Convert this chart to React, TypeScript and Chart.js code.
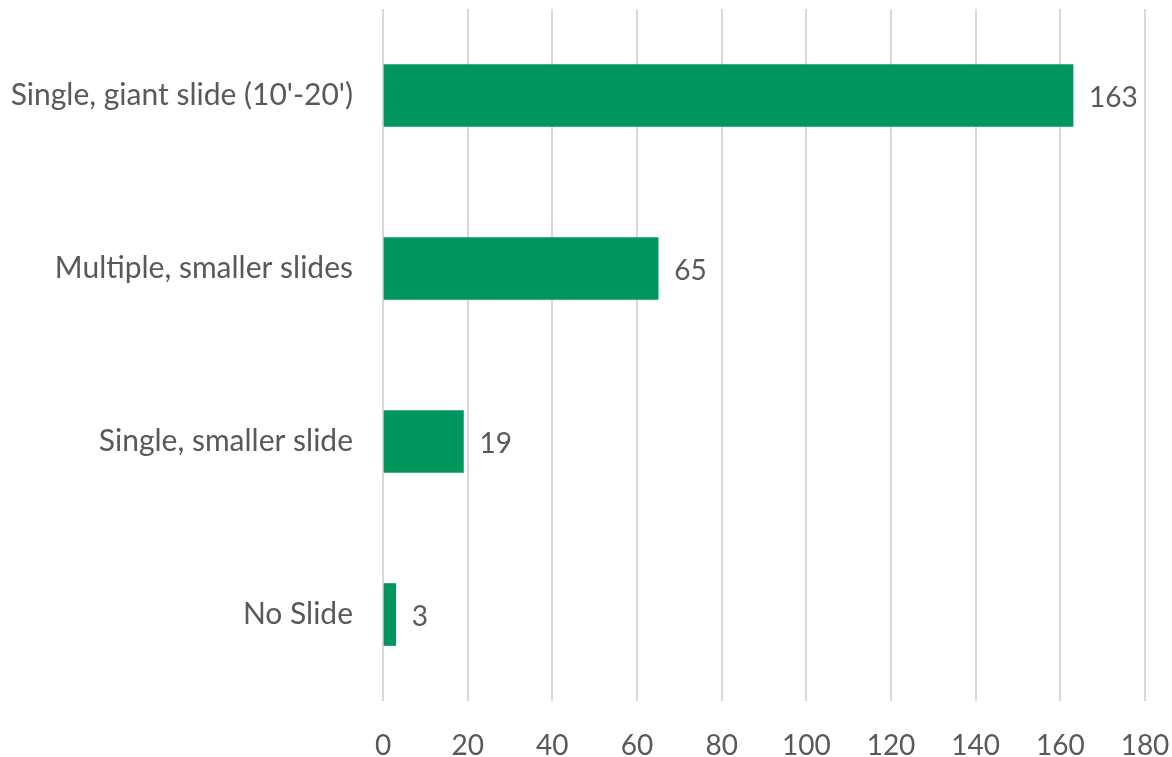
import React, { useEffect, useRef } from "react";
import { Chart, registerables } from "chart.js";

Chart.register(...registerables);

const categories = ["Single, giant slide (10'-20')", "Multiple, smaller slides", "Single, smaller slide", "No Slide"];
const values = [163, 65, 19, 3];
const xMin = 0;
const xMax = 180;
const xStep = 20;

const TEXT = "#595959";
const FONT = "Lato, 'Open Sans', sans-serif";

const valueLabels = {
  id: "valueLabels",
  afterDatasetsDraw(chart: any) {
    const ctx = chart.ctx;
    const meta = chart.getDatasetMeta(0);
    ctx.save();
    ctx.fillStyle = TEXT;
    ctx.font = `28px ${FONT}`;
    ctx.textAlign = "left";
    ctx.textBaseline = "middle";
    meta.data.forEach((bar: any, i: number) => {
      ctx.fillText(String(values[i]), bar.x + 16, bar.y + 2);
    });
    ctx.restore();
  },
};

export default function App() {
  const ref = useRef<HTMLCanvasElement>(null);
  useEffect(() => {
    if (!ref.current) return;
    const chart = new Chart(ref.current, {
      type: "bar",
      data: {
        labels: categories,
        datasets: [
          {
            data: values,
            backgroundColor: "#00965E",
            borderWidth: 0,
            barThickness: 62,
          },
        ],
      },
      options: {
        indexAxis: "y",
        animation: false,
        responsive: false,
        maintainAspectRatio: false,
        layout: { padding: { top: 9, right: 27, left: 0, bottom: 0 } },
        plugins: { legend: { display: false }, tooltip: { enabled: false } },
        scales: {
          x: {
            min: xMin,
            max: xMax,
            ticks: { stepSize: xStep, color: TEXT, font: { family: FONT, size: 28 }, padding: 28 },
            grid: { color: "#D9D9D9", lineWidth: 2, drawTicks: false },
            border: { display: false },
            afterFit(scale: any) {
              scale.height = 56;
              scale.paddingLeft = 0;
              scale.paddingRight = 0;
            },
          },
          y: {
            ticks: { color: TEXT, font: { family: FONT, size: 30 }, padding: 30 },
            grid: { display: false, drawTicks: false },
            border: { display: false },
            afterFit(scale: any) {
              scale.width = 383;
              scale.paddingTop = 0;
              scale.paddingBottom = 0;
            },
          },
        },
      },
      plugins: [valueLabels],
    });
    return () => chart.destroy();
  }, []);
  return (
    <div style={{ position: "fixed", left: 0, top: 0, width: 1172, height: 757, background: "#fff" }}>
      <canvas ref={ref} width={1172} height={757} />
    </div>
  );
}
